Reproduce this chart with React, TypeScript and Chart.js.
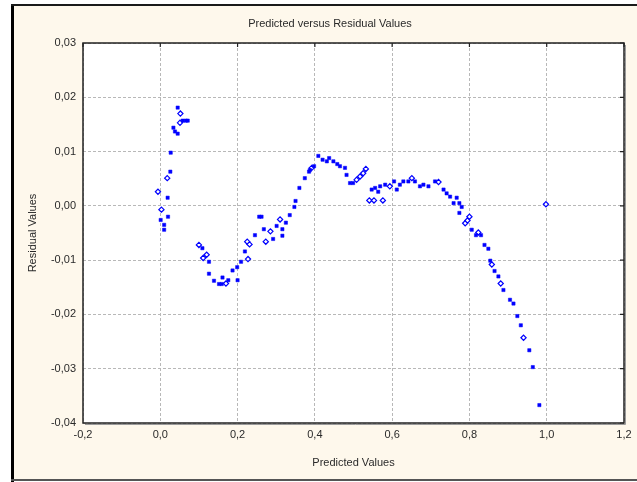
import React, { useEffect, useRef } from "react";
import { Chart, registerables } from "chart.js";

Chart.register(...registerables);

const titleText = "Predicted versus Residual Values";
const xTitle = "Predicted Values";
const yTitle = "Residual Values";

const xMin = -0.2;
const xMax = 1.2;
const xStep = 0.2;
const yMin = -0.04;
const yMax = 0.03;
const yStep = 0.01;

// filled markers
const filledX = [
  0.001, 0.010, 0.010, 0.019, 0.020, 0.026, 0.027, 0.034, 0.038, 0.045, 0.045, 0.058, 0.066, 0.071,
  0.109, 0.126, 0.126, 0.139, 0.152, 0.159, 0.161, 0.176, 0.187, 0.199, 0.200, 0.209, 0.219,
  0.245, 0.256, 0.262, 0.268, 0.292, 0.301, 0.316, 0.316, 0.325, 0.335, 0.347, 0.350, 0.360,
  0.374, 0.385, 0.387, 0.398, 0.409, 0.420, 0.431, 0.437, 0.448, 0.458, 0.465, 0.478, 0.482,
  0.491, 0.499, 0.547, 0.556, 0.564, 0.569, 0.582, 0.605, 0.612, 0.620, 0.629, 0.642, 0.659,
  0.672, 0.681, 0.694, 0.711, 0.733, 0.741, 0.750, 0.759, 0.767, 0.774, 0.780, 0.774, 0.806,
  0.817, 0.830, 0.839, 0.849, 0.854, 0.865, 0.875, 0.888, 0.905, 0.914, 0.924, 0.933, 0.955,
  0.964, 0.981,
];
const filledY = [
  -0.0026, -0.0035, -0.0044, 0.0015, -0.0020, 0.0063, 0.0098, 0.0144, 0.0137, 0.0133, 0.0181, 0.0157, 0.0157, 0.0157,
  -0.0078, -0.0103, -0.0125, -0.0138, -0.0144, -0.0144, -0.0132, -0.0137, -0.0119, -0.0113, -0.0137, -0.0103, -0.0084,
  -0.0054, -0.0020, -0.0020, -0.0043, -0.0061, -0.0037, -0.0043, -0.0055, -0.0031, -0.0017, -0.0002, 0.0009, 0.0033,
  0.0051, 0.0063, 0.0066, 0.0073, 0.0092, 0.0085, 0.0082, 0.0088, 0.0082, 0.0077, 0.0073, 0.0070, 0.0057,
  0.0042, 0.0042, 0.0030, 0.0033, 0.0026, 0.0036, 0.0039, 0.0045, 0.0030, 0.0039, 0.0045, 0.0045, 0.0045,
  0.0036, 0.0039, 0.0036, 0.0045, 0.0030, 0.0023, 0.0017, 0.0005, 0.0015, 0.0005, -0.0002, -0.0013, -0.0044,
  -0.0054, -0.0054, -0.0072, -0.0079, -0.0101, -0.0120, -0.0130, -0.0155, -0.0173, -0.0180, -0.0203, -0.0220, -0.0266,
  -0.0297, -0.0367,
];

// hollow diamond markers
const hollowX = [
  -0.006, 0.003, 0.018, 0.052, 0.051, 0.100, 0.120, 0.111, 0.170, 0.227, 0.225, 0.231, 0.273, 0.285,
  0.310, 0.392, 0.508, 0.517, 0.525, 0.532, 0.541, 0.553, 0.576, 0.594, 0.651, 0.720, 0.789, 0.795,
  0.800, 0.823, 0.858, 0.881, 0.940, 0.998,
];
const hollowY = [
  0.0026, -0.0007, 0.0051, 0.0170, 0.0153, -0.0072, -0.0090, -0.0096, -0.0143, -0.0098, -0.0066, -0.0071, -0.0066, -0.0047,
  -0.0025, 0.0070, 0.0048, 0.0054, 0.0060, 0.0068, 0.0010, 0.0010, 0.0010, 0.0036, 0.0051, 0.0044, -0.0032, -0.0027,
  -0.0020, -0.0049, -0.0108, -0.0143, -0.0243, 0.0003,
];

const FONT = '"Liberation Sans", Arial, sans-serif';
const BLUE = "#0000ff";
const CREAM = "#fef8ec";
const TEXT = "#2a2a2a";

const fmt = (v: any, d: number) => {
  const n = Number(v);
  const r = Math.abs(n) < 1e-9 ? 0 : n;
  return r.toFixed(d).replace(".", ",");
};

const framePlugin = {
  id: "framePlugin",
  beforeDraw(chart: any) {
    const { ctx, width, height, chartArea } = chart;
    ctx.save();
    ctx.fillStyle = "#ffffff";
    ctx.fillRect(0, 0, width, height);
    ctx.fillStyle = CREAM;
    ctx.fillRect(12, 5, width - 12, height - 6);
    ctx.fillStyle = "#000000";
    ctx.fillRect(11, 4, 3, height - 4);
    ctx.fillStyle = "#1a1a1a";
    ctx.fillRect(11, 4, width - 11, 2);
    ctx.fillStyle = "#555555";
    ctx.fillRect(11, height - 3, width - 11, 2);
    ctx.fillStyle = "#ffffff";
    ctx.fillRect(chartArea.left, chartArea.top, chartArea.right - chartArea.left, chartArea.bottom - chartArea.top);
    ctx.restore();
  },
  afterDatasetsDraw(chart: any) {
    const { ctx, chartArea, scales } = chart;
    const { left, top, right, bottom } = chartArea;
    ctx.save();
    ctx.strokeStyle = "#9a9a9a";
    ctx.lineWidth = 1;
    ctx.beginPath();
    ctx.moveTo(right + 1.5, top + 2);
    ctx.lineTo(right + 1.5, bottom + 1.5);
    ctx.lineTo(left + 2, bottom + 1.5);
    ctx.stroke();
    ctx.strokeStyle = "#222222";
    ctx.lineWidth = 1.5;
    ctx.strokeRect(left, top, right - left, bottom - top);
    ctx.lineWidth = 1.2;
    ctx.beginPath();
    scales.x.ticks.forEach((t: any) => {
      const px = scales.x.getPixelForValue(t.value);
      ctx.moveTo(px, top);
      ctx.lineTo(px, top + 4);
    });
    scales.y.ticks.forEach((t: any) => {
      const py = scales.y.getPixelForValue(t.value);
      ctx.moveTo(right, py);
      ctx.lineTo(right - 4, py);
    });
    ctx.stroke();
    ctx.restore();
  },
  afterDraw(chart: any) {
    const { ctx, chartArea } = chart;
    ctx.save();
    ctx.fillStyle = TEXT;
    ctx.font = `11px ${FONT}`;
    ctx.textAlign = "center";
    ctx.textBaseline = "middle";
    ctx.fillText(titleText, 330, 24);
    ctx.fillText(xTitle, (chartArea.left + chartArea.right) / 2, 463);
    ctx.translate(33, (chartArea.top + chartArea.bottom) / 2);
    ctx.rotate(-Math.PI / 2);
    ctx.fillText(yTitle, 0, 0);
    ctx.restore();
  },
};

export default function App() {
  const ref = useRef<HTMLCanvasElement | null>(null);
  useEffect(() => {
    if (!ref.current) return;
    const filled = filledX.map((x, i) => ({ x, y: filledY[i] }));
    const hollow = hollowX.map((x, i) => ({ x, y: hollowY[i] }));
    const chart = new Chart(ref.current, {
      type: "scatter",
      data: {
        datasets: [
          {
            label: "filled",
            data: filled,
            pointStyle: "rect",
            pointRadius: 2.3,
            backgroundColor: BLUE,
            borderColor: BLUE,
            borderWidth: 0.5,
          },
          {
            label: "hollow",
            data: hollow,
            pointStyle: "rectRot",
            pointRadius: 2.6,
            backgroundColor: "#ffffff",
            borderColor: BLUE,
            borderWidth: 1.2,
          },
        ],
      },
      options: {
        animation: false,
        responsive: false,
        devicePixelRatio: 1,
        layout: { padding: { left: 0, top: 43, right: 13, bottom: 0 } },
        plugins: {
          legend: { display: false },
          title: { display: false },
          tooltip: { enabled: false },
        },
        scales: {
          x: {
            type: "linear",
            min: xMin,
            max: xMax,
            afterFit: (s: any) => {
              s.height = 59;
            },
            ticks: {
              stepSize: xStep,
              padding: 5,
              color: TEXT,
              font: { family: FONT, size: 11 },
              maxRotation: 0,
              callback: (v: any) => fmt(v, 1),
            },
            grid: { color: "#b8b8b8", lineWidth: 1, drawTicks: false },
            border: { display: false, dash: [3, 2] },
          },
          y: {
            type: "linear",
            min: yMin,
            max: yMax,
            afterFit: (s: any) => {
              s.width = 83;
            },
            ticks: {
              stepSize: yStep,
              padding: 7,
              color: TEXT,
              font: { family: FONT, size: 11 },
              callback: (v: any) => fmt(v, 2),
            },
            grid: { color: "#b8b8b8", lineWidth: 1, drawTicks: false },
            border: { display: false, dash: [3, 2] },
          },
        },
      },
      plugins: [framePlugin],
    });
    return () => chart.destroy();
  }, []);
  return (
    <div style={{ position: "absolute", left: 0, top: 0, width: 637, height: 482 }}>
      <canvas ref={ref} width={637} height={482} style={{ display: "block", width: 637, height: 482 }} />
    </div>
  );
}
